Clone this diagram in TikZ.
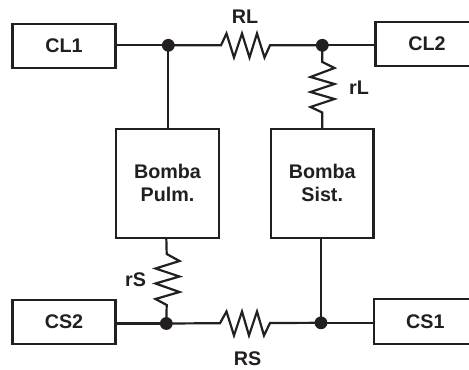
\documentclass[tikz,border=0pt]{standalone}
\usepackage{fontspec}
\setmainfont{Liberation Sans}
\definecolor{ink}{HTML}{231F20}
\tikzset{
  wire/.style={draw=ink,line width=1.65pt},
  blockbox/.style={draw=ink,line width=1.65pt,rectangle,inner sep=0pt,outer sep=0pt,align=center,text=ink,
    font=\fontsize{14.8pt}{17.3pt}\selectfont\bfseries},
  smallbox/.style={blockbox,minimum width=77.2pt,minimum height=33.2pt},
  pump/.style={blockbox,minimum width=76.8pt,minimum height=81.5pt},
  dot/.style={circle,fill=ink,inner sep=0pt,outer sep=0pt,minimum size=9.6pt},
  lab/.style={inner sep=0pt,text=ink,font=\fontsize{14.8pt}{17.3pt}\selectfont\bfseries}
}
\begin{document}
\begin{tikzpicture}[x=0.75pt,y=-0.75pt]
\clip (0,0) rectangle (469,369);
\fill[white] (0,0) rectangle (469,369);
% blocks
\node[smallbox] (cl1) at (64,46.2) {CL1};
\node[smallbox] (cl2) at (427,44.2) {CL2};
\node[smallbox] (cs2) at (64,322.2) {CS2};
\node[smallbox] (cs1) at (425.3,321.5) {CS1};
\node[pump] (pulm) at (167.5,183.3) {Bomba\\Pulm.};
\node[pump] (sist) at (322.2,183.3) {Bomba\\Sist.};
% junctions
\node[dot] (j1) at (168.3,45.3) {};
\node[dot] (j2) at (322.3,45.3) {};
\node[dot] (j3) at (166.3,323.5) {};
\node[dot] (j4) at (321,322.8) {};
% plain wires
\draw[wire] (cl1.east |- j1) -- (j1.center);
\draw[wire] (j2.center) -- (cl2.west |- j2);
\draw[wire] (cs2.east |- j3) -- (j3.center);
\draw[wire] (j4.center) -- (cs1.west |- j4);
\draw[wire] (j1.center) -- (j1 |- pulm.north);
\draw[wire] (j4.center) -- (j4 |- sist.south);
% RL
\draw[wire] (j1.center) -- (221,45.3) -- (226.5,33.5) -- (234,57.5) -- (242,33.5) -- (249.5,57.5) -- (257,33.5) -- (264.5,57.5) -- (270,45.3) -- (j2.center);
% RS
\draw[wire] (j3.center) -- (220,323.2) -- (226.5,311.5) -- (234,335.5) -- (242,311.5) -- (249,335.5) -- (257,311.5) -- (264,335.5) -- (270,323) -- (j4.center);
% rL
\draw[wire] (j2.center) -- (322.3,62) -- (334.5,68) -- (310.5,77) -- (334.5,84) -- (310.5,92) -- (334.5,99) -- (310.5,107) -- (322.3,112.5) -- (322.3,129);
% rS
\draw[wire] (pulm.south -| j3) -- (166.7,254) -- (179.5,261) -- (155.5,268.5) -- (179.5,276.5) -- (155.5,283.5) -- (179.5,292) -- (155.5,299) -- (166.7,305) -- (j3.center);
% labels
\node[lab] (rl) at (245,16.5) {RL};
\node[lab] (rs) at (247.5,358.5) {RS};
\node[lab] (rls) at (359,87.5) {rL};
\node[lab] (rss) at (135.5,279.5) {rS};
\end{tikzpicture}
\end{document}
